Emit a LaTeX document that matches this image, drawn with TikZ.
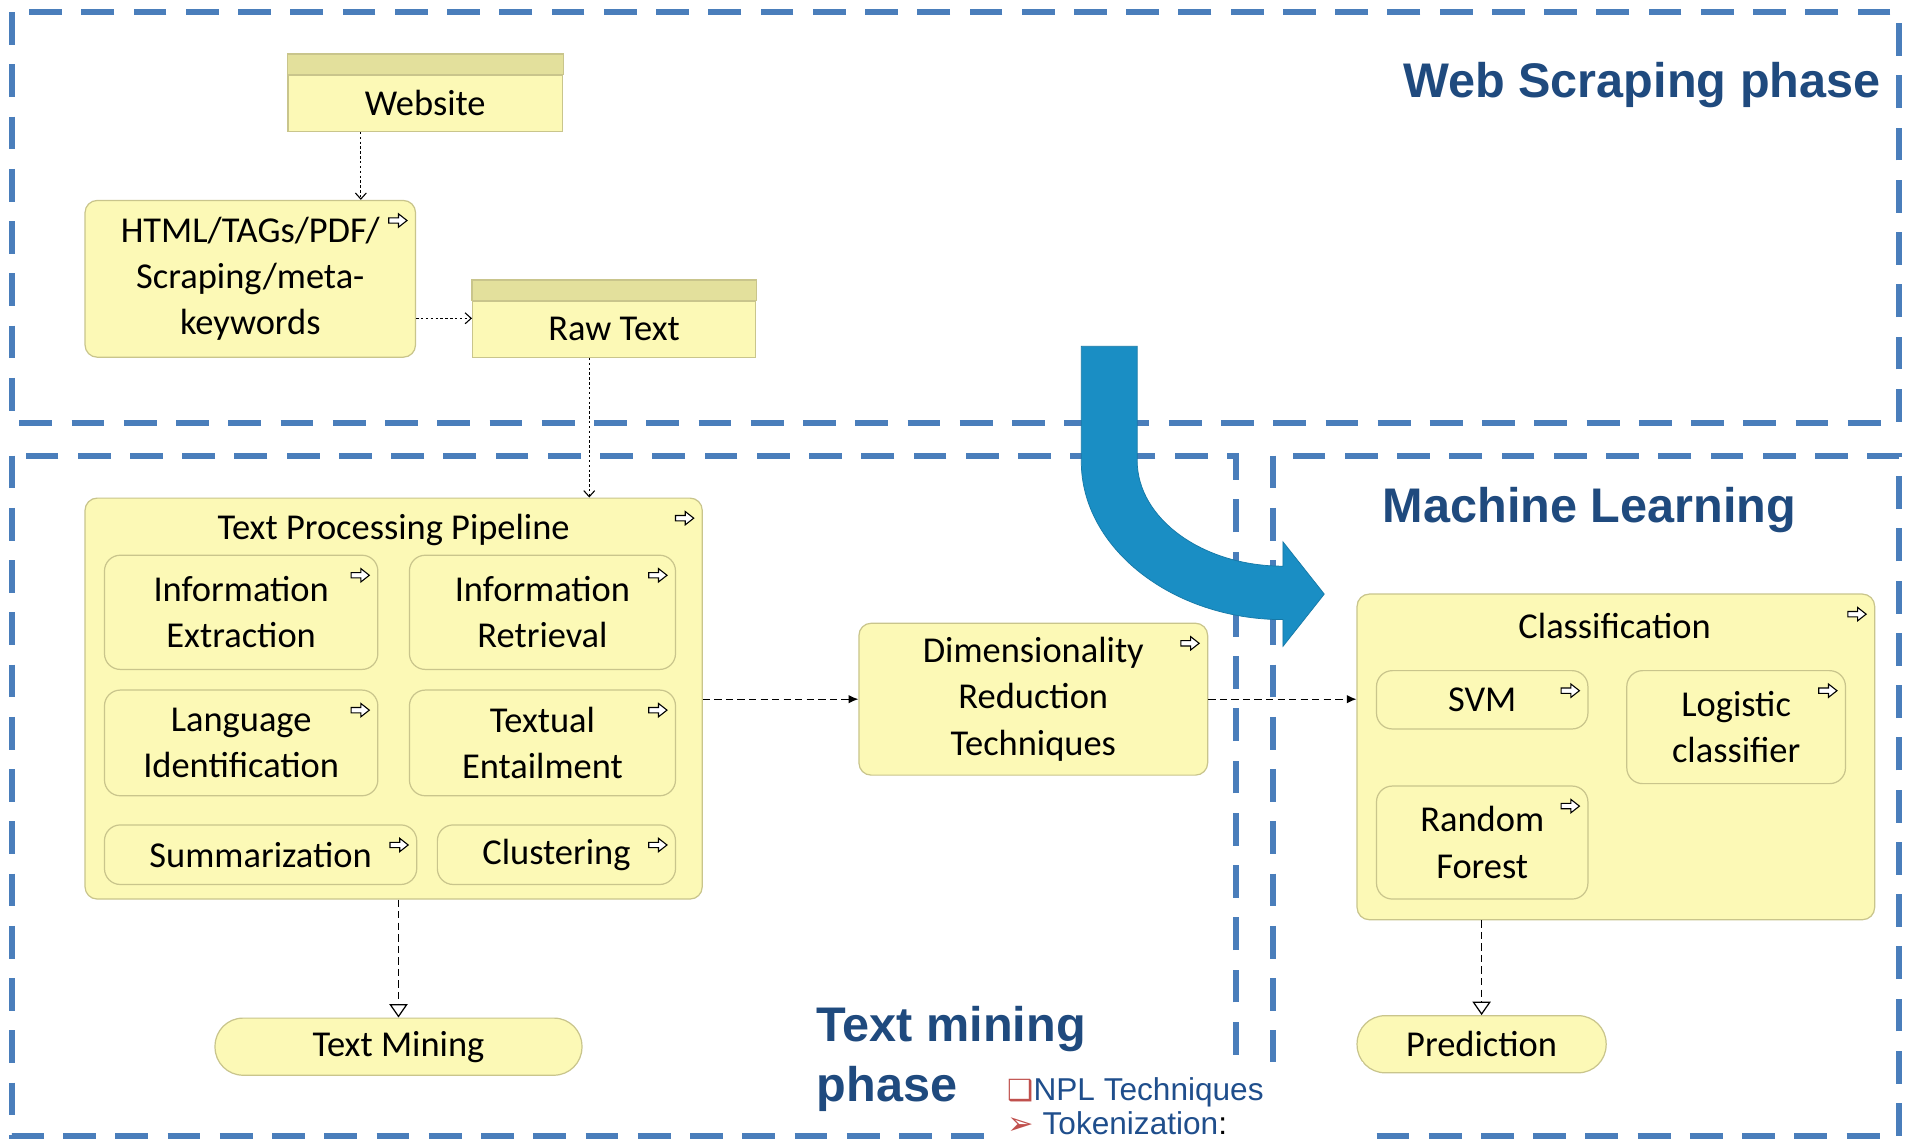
\documentclass[tikz,border=0pt]{standalone}
\usepackage{fontspec}
\setmainfont{Carlito}
\newfontfamily\phasefont{Liberation Sans}
\newfontfamily\dingfont{DejaVu Sans}
\usepackage{tikz}
\usetikzlibrary{arrows.meta,calc,positioning}
\usepackage{xcolor}

\definecolor{appfill}{HTML}{FCF9B6}
\definecolor{appline}{HTML}{C9C58C}
\definecolor{bandfill}{HTML}{E3E09C}
\definecolor{phaseline}{HTML}{4A7EBB}
\definecolor{phasetext}{HTML}{1F4A7E}
\definecolor{bigarrow}{HTML}{1A8EC4}
\definecolor{nplblue}{HTML}{1F4E8C}
\definecolor{nplred}{HTML}{C0504D}

\tikzset{
  procicon/.pic={
    \draw[line width=0.9pt,fill=white] (-7.5,-2.2) -- (0.5,-2.2) -- (0.5,-5.5) -- (7.5,0) -- (0.5,5.5) -- (0.5,2.2) -- (-7.5,2.2) -- cycle;
  }
}

\begin{document}
\begin{tikzpicture}[x=1pt,y=-1pt,
	  every node/.style={align=center,text=black,inner sep=0pt,font=\fontsize{30}{38}\selectfont},
	  phase/.style={draw=phaseline,line width=5pt,dash pattern=on 27pt off 16pt},
	  phasetitle/.style={text=phasetext,font=\phasefont\bfseries\fontsize{40}{50}\selectfont,align=left},
	  appbox/.style={draw=appline,fill=appfill,line width=1pt,rounded corners=10pt},
	  subbox/.style={appbox,rounded corners=13pt},
	  artifact/.style={draw=appline,fill=appfill,line width=1pt},
	  band/.style={draw=appline,fill=bandfill,line width=1pt},
	  event/.style={appbox,rounded corners=23pt},
	  npl/.style={text=nplblue,font=\phasefont\fontsize{26}{32}\selectfont,align=left},
	  dotflow/.style={-{Straight Barb[length=5pt,width=9pt]},line width=0.9pt,dash pattern=on 2pt off 2pt},
	  dashflow/.style={-{Latex[length=8pt,width=7pt]},line width=1pt,dash pattern=on 6pt off 3.5pt},
	  trigger/.style={-{Triangle[open,length=11pt,width=15pt]},line width=1pt,dash pattern=on 6pt off 3.5pt}]

	  \useasboundingbox[fill=white] (0,0) rectangle (1568,941);

	  % phase frames
	  \draw[phase] (10,10) rectangle (1563,348);
	  \draw[phase] (10,375) rectangle (1017,935);
	  \draw[phase] (1048,375) rectangle (1563,935);

	  \node[phasetitle,anchor=base east] (webtitle) at (1548,80) {Web Scraping phase};
	  \node[phasetitle,anchor=base west] (mltitle) at (1138,430) {Machine Learning};
	  \node[phasetitle,anchor=base west] (tmtitle) at (672,907) {Text mining\\phase};

	  % big curved arrow
	  \fill[bigarrow,draw=bigarrow!85!black,line width=0.6pt] (890,285) -- (936,285) -- (936,379)
	    .. controls (936,427) and (990,466) .. (1056,466) -- (1056,446) -- (1090,489) -- (1056,532) -- (1056,510)
	    .. controls (965,510) and (890,451) .. (890,380) -- cycle;

	  % web scraping
	  \node[artifact,minimum width=226pt,minimum height=46pt] (website) at (350,85) {Website};
	  \draw[band] (website.north west) rectangle ($(website.north east)+(0,-17)$);
	  \node[appbox,minimum width=272pt,minimum height=129pt] (scrape) at (206,229.5) {HTML/TAGs/PDF/\\Scraping/meta-\\keywords};
	  \node[artifact,minimum width=233pt,minimum height=46pt] (rawtext) at (505.5,271) {Raw Text};
	  \draw[band] (rawtext.north west) rectangle ($(rawtext.north east)+(0,-17)$);

	  % text mining
	  \node[appbox,minimum width=508pt,minimum height=330pt] (pipeline) at (324,575) {};
	  \node (pipetitle) at (324,436) {Text Processing Pipeline};
	  \node[subbox,minimum width=225pt,minimum height=94pt] (infoext) at (198.5,504) {Information\\Extraction};
	  \node[subbox,minimum width=219pt,minimum height=94pt,right=25pt of infoext] (inforet) {Information\\Retrieval};
	  \node[subbox,minimum width=225pt,minimum height=87pt] (langid) at (198.5,611.5) {Language\\Identification};
	  \node[subbox,minimum width=219pt,minimum height=87pt,right=25pt of langid] (textent) {Textual\\Entailment};
	  \node[subbox,minimum width=257pt,minimum height=49pt] (summ) at (214.5,703.5) {Summarization};
	  \node[subbox,minimum width=196pt,minimum height=49pt,right=16pt of summ] (clust) {Clustering};
	  \node[event,minimum width=302pt,minimum height=47pt] (textmining) at (328,861.5) {Text Mining};
	  \node[appbox,minimum width=287pt,minimum height=125pt] (dimred) at (850.5,575.5) {Dimensionality\\Reduction\\Techniques};

	  % machine learning
	  \node[appbox,minimum width=426pt,minimum height=268pt] (classif) at (1330,623) {};
	  \node (classiftitle) at (1329,515) {Classification};
	  \node[subbox,minimum width=174pt,minimum height=48pt] (svm) at (1220,576) {SVM};
	  \node[subbox,minimum width=180pt,minimum height=93pt] (logit) at (1429,598.5) {Logistic\\classifier};
	  \node[subbox,minimum width=174pt,minimum height=93pt] (rforest) at (1220,693.5) {Random\\Forest};
	  \node[event,minimum width=205pt,minimum height=47pt] (prediction) at (1219.5,859.5) {Prediction};

	  % process icons
	  \foreach \n in {scrape,pipeline,infoext,inforet,langid,textent,summ,clust,dimred,classif,svm,logit,rforest}
	    \pic at ([shift={(-15,17)}]\n.north east) {procicon};

	  % flows
	  \draw[dotflow] ([xshift=-53pt]website.south) -- ([xshift=-53pt]website.south |- scrape.north);
	  \draw[dotflow] ([yshift=9pt]rawtext.west -| scrape.east) -- ([yshift=9pt]rawtext.west);
	  \draw[dotflow] ([xshift=-20.5pt]rawtext.south) -- ([xshift=-20.5pt]rawtext.south |- pipeline.north);
	  \draw[dashflow] (pipeline.east |- dimred.west) -- (dimred.west);
	  \draw[dashflow] (dimred.east) -- (classif.west |- dimred.east);
	  \draw[trigger] (textmining.north |- pipeline.south) -- (textmining.north);
	  \draw[trigger] (prediction.north |- classif.south) -- (prediction.north);

	  % pasted slide fragment
	  \fill[white] (815,874) rectangle (1122,941);
	  \node[npl,anchor=base west] (nplhead) at (829,906) {{\dingfont\fontsize{24}{30}\selectfont\color{nplred}❑}NPL Techniques};
	  \node[npl,anchor=base west] (npltok) at (829,934) {{\dingfont\fontsize{26}{30}\selectfont\color{nplred}➢}\ Tokenization{\color{black}:}};

\end{tikzpicture}
\end{document}
